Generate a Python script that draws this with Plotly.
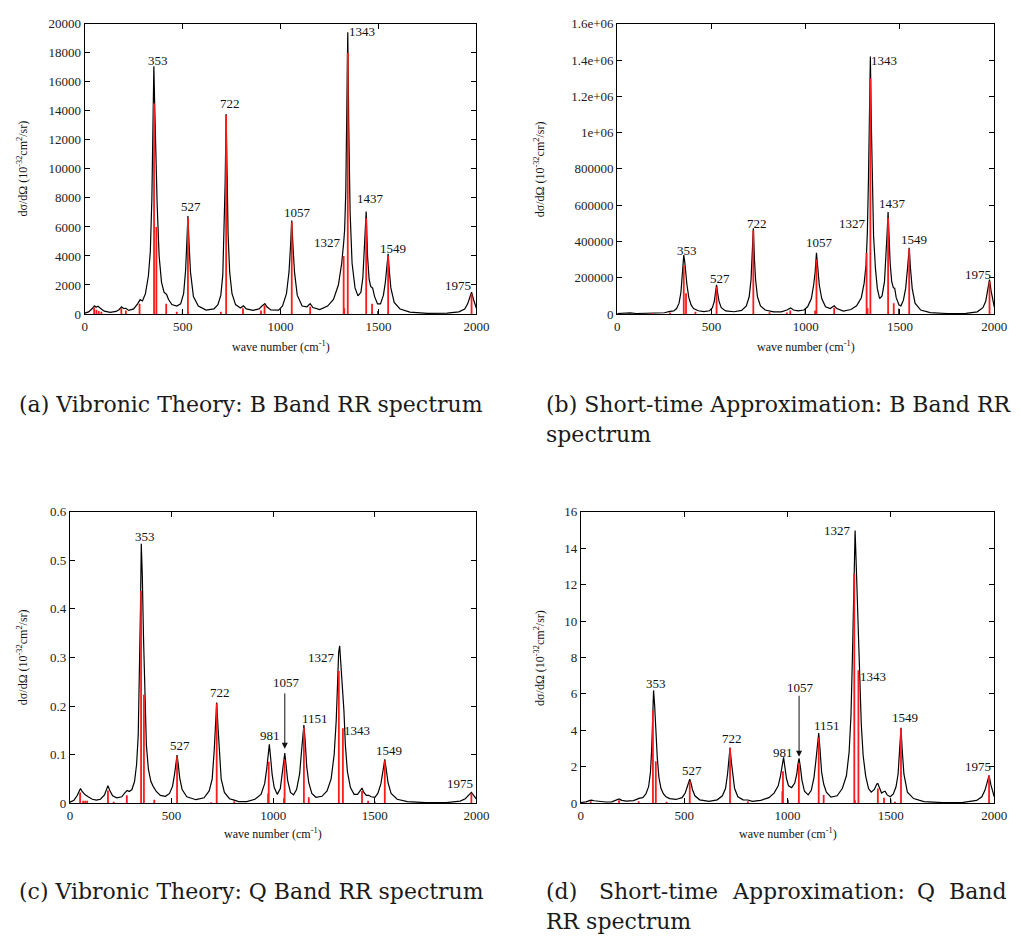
import plotly.graph_objects as go

W, H = 1021, 941

# ------------------------------------------------------------------ data
XTICKS = [0, 500, 1000, 1500, 2000]

# (a) Vibronic theory, B band
A_X = [0, 20, 40, 50, 58, 68, 80, 100, 130, 160, 175, 188, 198, 210, 225, 250, 270, 283, 295, 310,
       325, 335, 343, 348, 353, 358, 363, 370, 380, 392, 405, 418, 428, 445, 470, 490, 505, 515, 521, 527,
       533, 540, 555, 580, 620, 660, 680, 695, 705, 712, 717, 722, 727, 732, 740, 752, 770, 795, 810, 825,
       860, 890, 905, 920, 930, 950, 990, 1010, 1030, 1043, 1050, 1057, 1064, 1071, 1085, 1110, 1135, 1151, 1165, 1200,
       1240, 1270, 1295, 1312, 1322, 1327, 1333, 1338, 1343, 1348, 1355, 1365, 1380, 1395, 1410, 1420, 1428, 1437, 1444, 1452,
       1460, 1470, 1480, 1495, 1510, 1525, 1535, 1543, 1549, 1555, 1563, 1580, 1610, 1660, 1750, 1850, 1910, 1940, 1955, 1965,
       1975, 1985, 2000]
A_Y = [60, 150, 400, 560, 470, 540, 400, 200, 120, 180, 300, 500, 380, 390, 250, 350, 700, 990, 900, 1400,
       2600, 4300, 8000, 12000, 17070, 14000, 11000, 7500, 4000, 2200, 1500, 1350, 1000, 650, 550, 700, 1400, 3000, 4800, 6760,
       4800, 2900, 1200, 550, 270, 350, 650, 1300, 2700, 5500, 9000, 13780, 9000, 5500, 2900, 1400, 650, 420, 560, 350,
       250, 350, 550, 720, 500, 280, 270, 550, 1400, 2900, 4500, 6450, 4500, 2900, 1300, 550, 500, 720, 450, 300,
       550, 1000, 2000, 3500, 4900, 5800, 8500, 13000, 19410, 13000, 7000, 3500, 1800, 1250, 1500, 2500, 4500, 7060, 4000, 2400,
       1900, 1780, 1200, 700, 700, 1300, 2200, 3300, 4150, 3000, 1800, 800, 350, 130, 50, 60, 150, 350, 700, 1100,
       1510, 1000, 380]
A_SX = [48, 60, 72, 85, 187, 210, 280, 354, 366, 416, 470, 527, 695, 722, 808, 900, 918, 1057,
        1151, 1322, 1325, 1343, 1437, 1467, 1549, 1975]
A_SH = [450, 300, 200, 150, 400, 250, 700, 14500, 6000, 700, 150, 6600, 150, 13700, 400, 250, 600, 6300,
        500, 4000, 400, 18000, 6600, 700, 4000, 1400]
A_DX = [499, 1496]
A_DH = [220, 200]
A_YTICKS = [0, 2000, 4000, 6000, 8000, 10000, 12000, 14000, 16000, 18000, 20000]
A_YTEXT = ["0", "2000", "4000", "6000", "8000", "10000", "12000", "14000", "16000", "18000", "20000"]
A_LAB = ["353", "527", "722", "1057", "1327", "1343", "1437", "1549", "1975"]
A_LX = [372, 544, 740, 1088, 1242, 1414, 1459, 1572, 1908]
A_LY = [17475, 7440, 14475, 6967, 4960, 19436, 7982, 4487, 1962]

# (b) Short-time approximation, B band
B_X = [0, 30, 50, 70, 100, 150, 185, 210, 250, 280, 300, 315, 328, 338, 345, 349, 353, 358, 364, 370,
       380, 392, 405, 415, 430, 460, 490, 505, 515, 521, 527, 533, 540, 552, 575, 620, 660, 685, 700, 710,
       716, 722, 728, 734, 744, 760, 785, 810, 830, 870, 900, 920, 935, 960, 990, 1010, 1030, 1042, 1050, 1057,
       1064, 1072, 1085, 1105, 1130, 1151, 1165, 1200, 1240, 1270, 1295, 1310, 1320, 1327, 1333, 1338, 1343, 1348, 1353, 1360,
       1370, 1380, 1392, 1405, 1418, 1427, 1432, 1437, 1442, 1448, 1456, 1465, 1472, 1480, 1495, 1505, 1518, 1530, 1540, 1549,
       1556, 1565, 1580, 1610, 1660, 1750, 1850, 1910, 1940, 1955, 1965, 1975, 1983, 1992, 2000]
B_Y = [3000, 5000, 7000, 6000, 3000, 3000, 5000, 5000, 7000, 15000, 17000, 30000, 60000, 120000, 200000, 270000, 324700, 290000, 220000, 160000,
       90000, 50000, 30000, 25000, 18000, 13000, 18000, 35000, 70000, 115000, 160500, 115000, 70000, 35000, 17000, 12600, 20000, 45000, 95000, 190000,
       300000, 472600, 300000, 190000, 95000, 45000, 22000, 16000, 12000, 12000, 22000, 34000, 22000, 17000, 22000, 40000, 85000, 160000, 230000, 337300,
       230000, 160000, 85000, 40000, 30000, 45000, 30000, 16000, 25000, 45000, 90000, 170000, 270000, 450000, 750000, 1100000, 1419600, 1050000, 700000, 430000,
       250000, 140000, 85000, 100000, 180000, 330000, 450000, 562800, 420000, 280000, 180000, 145000, 142500, 90000, 50000, 45000, 75000, 140000, 250000, 364400,
       250000, 140000, 60000, 22000, 8000, 3000, 4000, 12000, 35000, 70000, 130000, 189400, 130000, 70000, 40000]
B_SX = [185, 280, 353, 365, 415, 527, 722, 808, 900, 918, 1050, 1057, 1151, 1323, 1328, 1343, 1437, 1467, 1549, 1975]
B_SH = [5000, 8000, 270000, 115000, 12000, 150000, 460000, 10000, 8000, 20000, 20000, 300000, 35000, 336000, 32000,
        1300000, 530000, 60000, 360000, 180000]
B_DX = [997, 1493]
B_DH = [22000, 30000]
B_YTICKS = [0, 200000, 400000, 600000, 800000, 1000000, 1200000, 1400000, 1600000]
B_YTEXT = ["0", "200000", "400000", "600000", "800000", "1e+06", "1.2e+06", "1.4e+06", "1.6e+06"]
B_LAB = ["353", "527", "722", "1057", "1327", "1343", "1437", "1549", "1975"]
B_LX = [371, 545, 740, 1071, 1246, 1416, 1462, 1573, 1913]
B_LY = [348000, 196600, 499600, 396800, 499600, 1397900, 607900, 409500, 216500]

# (c) Vibronic theory, Q band
C_X = [0, 20, 35, 45, 52, 60, 75, 90, 110, 130, 150, 170, 180, 187, 195, 210, 230, 255, 272, 282,
       292, 305, 318, 328, 336, 342, 347, 351, 356, 362, 368, 376, 386, 398, 410, 425, 445, 470, 490, 505,
       515, 521, 527, 533, 540, 552, 575, 620, 660, 685, 700, 710, 716, 722, 728, 734, 744, 760, 785, 808,
       830, 870, 910, 940, 958, 968, 975, 981, 987, 995, 1005, 1020, 1035, 1045, 1051, 1057, 1063, 1071, 1085, 1100,
       1115, 1130, 1140, 1146, 1151, 1157, 1165, 1175, 1190, 1210, 1240, 1265, 1285, 1300, 1310, 1317, 1322, 1327, 1332, 1338,
       1343, 1348, 1355, 1365, 1380, 1398, 1415, 1428, 1437, 1446, 1458, 1470, 1482, 1500, 1515, 1530, 1540, 1549, 1556, 1565,
       1580, 1610, 1660, 1750, 1850, 1920, 1945, 1960, 1975, 1988, 2000]
C_Y = [0.002, 0.006, 0.015, 0.026, 0.030, 0.024, 0.017, 0.013, 0.008, 0.006, 0.008, 0.017, 0.030, 0.036, 0.027, 0.015, 0.011, 0.013, 0.022, 0.026,
       0.024, 0.028, 0.045, 0.08, 0.14, 0.25, 0.40, 0.534, 0.47, 0.34, 0.22, 0.12, 0.07, 0.045, 0.034, 0.024, 0.016, 0.014, 0.02, 0.035,
       0.06, 0.085, 0.099, 0.080, 0.052, 0.028, 0.013, 0.007, 0.011, 0.025, 0.05, 0.11, 0.16, 0.207, 0.16, 0.11, 0.05, 0.022, 0.009, 0.006,
       0.003, 0.003, 0.008, 0.018, 0.04, 0.07, 0.105, 0.121, 0.095, 0.058, 0.032, 0.018, 0.03, 0.06, 0.088, 0.103, 0.08, 0.047, 0.022, 0.017,
       0.028, 0.06, 0.11, 0.145, 0.161, 0.13, 0.075, 0.042, 0.02, 0.012, 0.014, 0.025, 0.05, 0.1, 0.17, 0.25, 0.31, 0.324, 0.29, 0.255,
       0.235, 0.19, 0.12, 0.065, 0.032, 0.018, 0.018, 0.026, 0.031, 0.022, 0.016, 0.016, 0.013, 0.012, 0.02, 0.04, 0.067, 0.09, 0.07, 0.042,
       0.02, 0.008, 0.003, 0.001, 0.001, 0.004, 0.009, 0.015, 0.022, 0.015, 0.008]
C_SX = [50, 65, 75, 85, 187, 215, 280, 350, 364, 415, 527, 695, 722, 808, 975, 978, 1053, 1056,
        1151, 1175, 1323, 1343, 1437, 1467, 1549, 1975]
C_SH = [0.022, 0.005, 0.005, 0.005, 0.026, 0.003, 0.016, 0.437, 0.223, 0.007, 0.096, 0.002, 0.205, 0.004, 0.02, 0.085, 0.01, 0.09,
        0.155, 0.012, 0.272, 0.154, 0.025, 0.005, 0.088, 0.02]
C_DX = [1500]
C_DH = [0.004]
C_YTICKS = [0, 0.1, 0.2, 0.3, 0.4, 0.5, 0.6]
C_YTEXT = ["0", "0.1", "0.2", "0.3", "0.4", "0.5", "0.6"]
C_LAB = ["353", "527", "722", "981", "1057", "1151", "1327", "1343", "1549", "1975"]
C_LX = [367, 542, 736, 985, 1067, 1204, 1240, 1411, 1568, 1919]
C_LY = [0.549, 0.119, 0.228, 0.139, 0.249, 0.174, 0.300, 0.149, 0.109, 0.040]
C_ARROW = [1057, 0.229, 0.112]   # x, tail, tip

# (d) Short-time approximation, Q band
D_X = [0, 25, 45, 52, 65, 90, 120, 150, 170, 185, 198, 220, 255, 275, 285, 300, 315, 328, 337, 343,
       348, 352, 357, 363, 370, 378, 388, 400, 412, 430, 460, 490, 505, 515, 521, 527, 533, 540, 552, 575,
       620, 660, 685, 700, 710, 716, 722, 728, 734, 744, 760, 785, 808, 830, 870, 910, 935, 955, 966, 974,
       981, 987, 995, 1005, 1020, 1035, 1045, 1050, 1056, 1062, 1070, 1082, 1100, 1115, 1128, 1138, 1145, 1151, 1157, 1165,
       1175, 1188, 1210, 1240, 1265, 1285, 1298, 1307, 1314, 1320, 1324, 1327, 1331, 1336, 1341, 1345, 1350, 1357, 1366, 1378,
       1392, 1405, 1420, 1432, 1437, 1445, 1455, 1465, 1472, 1482, 1497, 1512, 1525, 1535, 1543, 1549, 1555, 1563, 1580, 1610,
       1660, 1750, 1850, 1915, 1940, 1955, 1965, 1975, 1984, 1993, 2000]
D_Y = [0.03, 0.07, 0.15, 0.16, 0.13, 0.10, 0.06, 0.07, 0.14, 0.23, 0.15, 0.11, 0.14, 0.25, 0.27, 0.3, 0.5, 0.9, 1.7, 3.0,
       4.8, 6.19, 5.4, 3.9, 2.5, 1.4, 0.8, 0.5, 0.35, 0.25, 0.2, 0.3, 0.55, 0.9, 1.15, 1.32, 1.1, 0.75, 0.4, 0.18,
       0.1, 0.18, 0.4, 0.8, 1.6, 2.3, 3.05, 2.3, 1.6, 0.8, 0.35, 0.18, 0.17, 0.1, 0.15, 0.3, 0.55, 0.95, 1.5, 2.1,
       2.51, 2.0, 1.35, 0.95, 0.85, 1.1, 1.6, 2.1, 2.46, 2.0, 1.25, 0.65, 0.45, 0.7, 1.4, 2.4, 3.3, 3.85, 3.0, 1.7,
       1.05, 0.6, 0.33, 0.4, 0.8, 1.5, 2.8, 4.8, 8.0, 12.0, 14.2, 14.97, 13.6, 11.8, 10.5, 9.2, 6.8, 4.3, 2.6, 1.5,
       0.8, 0.6, 0.75, 1.05, 1.07, 0.8, 0.55, 0.62, 0.65, 0.45, 0.35, 0.5, 0.9, 1.6, 2.9, 4.14, 2.9, 1.6, 0.6, 0.25,
       0.08, 0.03, 0.04, 0.15, 0.35, 0.7, 1.1, 1.52, 1.0, 0.55, 0.35]
D_SX = [48, 185, 280, 349, 363, 415, 527, 722, 808, 975, 978, 1055, 1151, 1175, 1323, 1326, 1343,
        1437, 1467, 1520, 1549, 1975]
D_SH = [0.1, 0.15, 0.1, 5.1, 2.3, 0.08, 1.2, 3.0, 0.1, 0.65, 1.75, 2.2, 3.6, 0.45, 12.6, 0.15, 7.3,
        0.8, 0.3, 0.08, 4.1, 1.5]
D_DX = [1003, 1500]
D_DH = [0.18, 0.2]
D_YTICKS = [0, 2, 4, 6, 8, 10, 12, 14, 16]
D_YTEXT = ["0", "2", "4", "6", "8", "10", "12", "14", "16"]
D_LAB = ["353", "527", "722", "981", "1057", "1151", "1327", "1343", "1549", "1975"]
D_LX = [366, 537, 733, 979, 1062, 1189, 1240, 1412, 1568, 1920]
D_LY = [6.57, 1.77, 3.56, 2.78, 6.37, 4.26, 15.0, 6.97, 4.71, 2.0]
D_ARROW = [1056, 5.98, 2.55]

# captions: list of (text, left px, centre-y px)
CAPTIONS = [
    [("(a) Vibronic Theory: B Band RR spectrum", 15, 404)],
    [("(b) Short-time Approximation: B Band RR", 551, 404), ("spectrum", 551, 434)],
    [("(c) Vibronic Theory: Q Band RR spectrum", 15, 899)],
    [("(d)", 551, 899), ("Short-time", 604, 899), ("Approximation:", 740, 899),
     ("Q", 928, 899), ("Band", 960, 899), ("RR spectrum", 551, 929)],
]
YTITLE = "dσ/dΩ (10<sup>-32</sup>cm<sup>2</sup>/sr)"
XTITLE = "wave number (cm<sup>-1</sup>)"

# ------------------------------------------------------------------ layout (pixel boxes)
BOXES = [  # left, right, top, bottom in px
    (83, 481, 17, 312),
    (624, 1007, 17, 312),
    (68, 481, 513, 809),
    (587, 1007, 513, 809),
]
YTITLE_X = [20, 545, 20, 545]
XTITLE_Y = [345, 345, 840, 840]

panels = [
    (A_X, A_Y, A_SX, A_SH, A_DX, A_DH, A_YTICKS, A_YTEXT, A_LAB, A_LX, A_LY, None),
    (B_X, B_Y, B_SX, B_SH, B_DX, B_DH, B_YTICKS, B_YTEXT, B_LAB, B_LX, B_LY, None),
    (C_X, C_Y, C_SX, C_SH, C_DX, C_DH, C_YTICKS, C_YTEXT, C_LAB, C_LX, C_LY, C_ARROW),
    (D_X, D_Y, D_SX, D_SH, D_DX, D_DH, D_YTICKS, D_YTEXT, D_LAB, D_LX, D_LY, D_ARROW),
]

SERIF = "Liberation Serif"
CAPFONT = "DejaVu Serif"
fig = go.Figure()
annotations = []
layout = dict(
    width=W, height=H, margin=dict(l=0, r=0, t=0, b=0),
    paper_bgcolor="white", plot_bgcolor="white", showlegend=False,
)


def sticks(xs, hs):
    sx, sy = [], []
    for x, h in zip(xs, hs):
        sx += [x, x, None]
        sy += [0, h, None]
    return sx, sy


for i, (cx, cy, sxs, shs, dxs, dhs, yt, ytt, lab, lx, ly, arrow) in enumerate(panels):
    n = "" if i == 0 else str(i + 1)
    xa, ya = "x" + n, "y" + n
    l, r, t, b = BOXES[i]
    fig.add_trace(go.Scatter(x=cx, y=cy, mode="lines", xaxis=xa, yaxis=ya,
                             line=dict(color="black", width=1.2), hoverinfo="skip"))
    px_, py_ = sticks(sxs, shs)
    fig.add_trace(go.Scatter(x=px_, y=py_, mode="lines", xaxis=xa, yaxis=ya,
                             line=dict(color="#ff1a1a", width=1.8), hoverinfo="skip"))
    qx, qy = sticks(dxs, dhs)
    fig.add_trace(go.Scatter(x=qx, y=qy, mode="lines", xaxis=xa, yaxis=ya,
                             line=dict(color="#333333", width=1.2), hoverinfo="skip"))
    common = dict(showline=True, linecolor="black", linewidth=1, mirror="ticks",
                  ticks="inside", ticklen=5, tickcolor="black", tickwidth=1,
                  showgrid=False, zeroline=False,
                  tickfont=dict(family=SERIF, size=13, color="#222222"))
    layout["xaxis" + n] = dict(common, domain=[l / W, r / W], anchor=ya, range=[0, 2000],
                               tickvals=XTICKS, ticktext=[str(v) for v in XTICKS])
    layout["yaxis" + n] = dict(common, domain=[1 - b / H, 1 - t / H], anchor=xa,
                               range=[yt[0], yt[-1]], tickvals=yt, ticktext=ytt)
    for s, x, y in zip(lab, lx, ly):
        annotations.append(dict(x=x, y=y, xref=xa, yref=ya, text=s, showarrow=False,
                                xanchor="center", yanchor="middle",
                                font=dict(family=SERIF, size=13, color="#111111")))
    if arrow is not None:
        annotations.append(dict(x=arrow[0], y=arrow[2], ax=arrow[0], ay=arrow[1],
                                xref=xa, yref=ya, axref=xa, ayref=ya, text="",
                                showarrow=True, arrowhead=2, arrowsize=1.2,
                                arrowwidth=1, arrowcolor="#111111"))
    annotations.append(dict(x=YTITLE_X[i] / W, y=1 - ((t + b) / 2) / H, xref="paper", yref="paper",
                            text=YTITLE, textangle=-90, showarrow=False,
                            xanchor="center", yanchor="middle",
                            font=dict(family=SERIF, size=12, color="#111111")))
    annotations.append(dict(x=((l + r) / 2) / W, y=1 - XTITLE_Y[i] / H, xref="paper", yref="paper",
                            text=XTITLE, showarrow=False, xanchor="center", yanchor="middle",
                            font=dict(family=SERIF, size=12, color="#111111")))
    for text, cxp, cyp in CAPTIONS[i]:
        annotations.append(dict(x=cxp / W, y=1 - cyp / H, xref="paper", yref="paper",
                                text=text, showarrow=False, xanchor="left", yanchor="middle",
                                borderpad=0,
                                font=dict(family=CAPFONT, size=22, color="#1a1a1a")))

layout["annotations"] = annotations
fig.update_layout(**layout)
fig.write_html("out.html")
